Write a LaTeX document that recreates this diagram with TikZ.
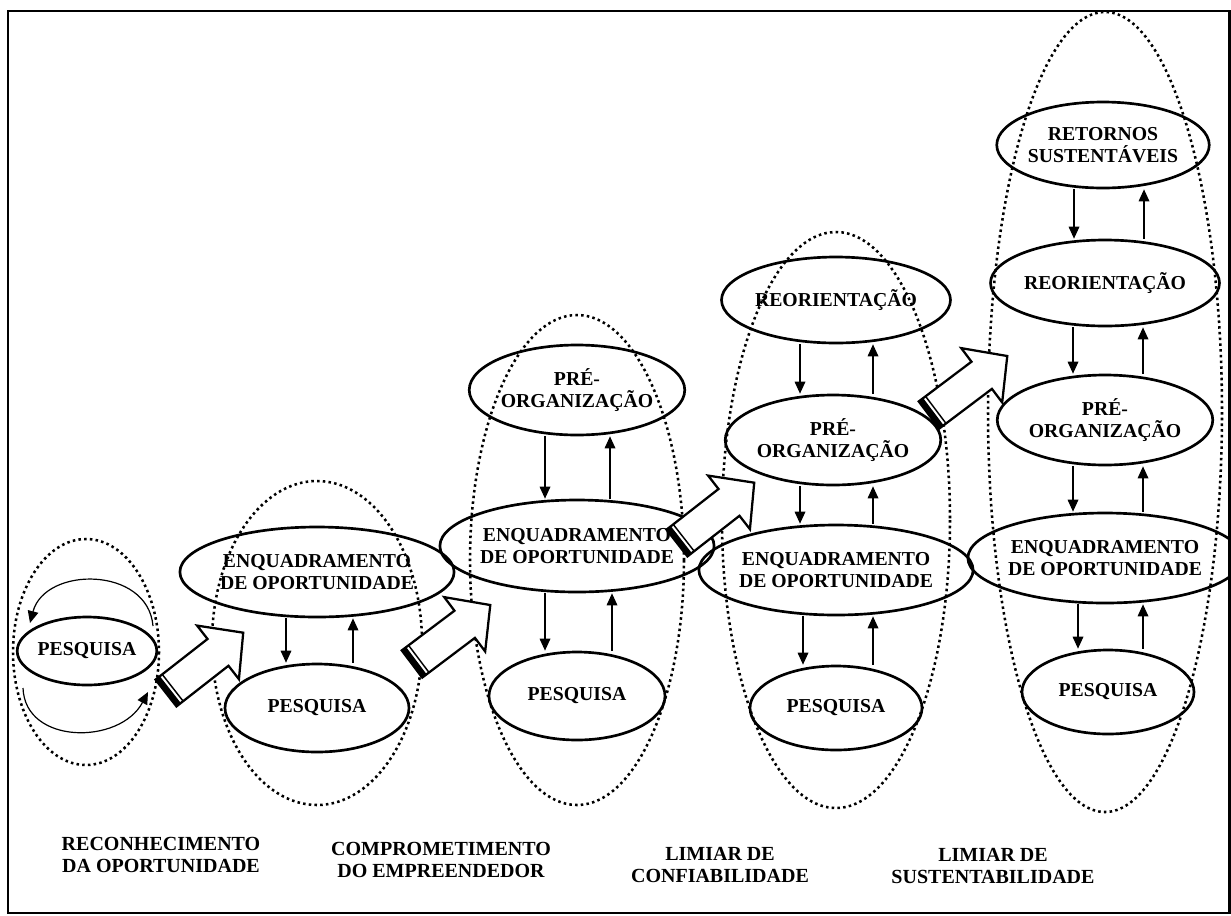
\documentclass[tikz,border=0pt]{standalone}
\usepackage{fontspec}
\setmainfont{Liberation Serif}
\usetikzlibrary{arrows.meta,shapes.geometric,calc}
\newcommand\bubble[6]{\node[bub,minimum width={#4*0.75pt},minimum height={#5*0.75pt}] (#1) at (#2,#3) {#6};}
\newcommand\blockarrow[3]{%
  \begin{scope}[shift={(#1,#2)},rotate=#3]
    \draw[line width=1.7pt,fill=white,line join=miter] (0,-17)--(66,-17)--(66,-34)--(98,0)--(66,34)--(66,17)--(0,17)--cycle;
    \fill (0,-17) rectangle (5.5,17);
    \draw[line width=1.1pt] (8.5,-17)--(8.5,17);
  \end{scope}}
\begin{document}
\begin{tikzpicture}[x=0.75pt,y=-0.75pt,
  bub/.style={ellipse,draw,line width=2pt,inner sep=0pt,align=center,
    font=\bfseries\fontsize{14.8}{16.5}\selectfont},
  dots/.style={line width=1.9pt,dash pattern=on 1.9pt off 2.4pt},
  arr/.style={line width=0.9pt,-{Triangle[length=9pt,width=8pt]}},
  lab/.style={align=center,font=\bfseries\fontsize{15}{16.5}\selectfont}]
\useasboundingbox (0,0) rectangle (1231,915);
\draw[line width=2.2pt] (8,11) rectangle (1229.5,913);

% dotted stage ellipses
\draw[dots] (86,652) ellipse [x radius=73, y radius=113];
\draw[dots] (317,643) ellipse [x radius=105, y radius=162];
\draw[dots] (577,560) ellipse [x radius=107, y radius=245];
\draw[dots] (836,520) ellipse [x radius=114, y radius=288];
\draw[dots] (1105,412) ellipse [x radius=117, y radius=400];

% stage 1
\bubble{sap}{87}{651}{136}{68}{PESQUISA}
\coordinate (c1a) at (153,626);
\coordinate (c1b) at (30,623);
\coordinate (c1c) at (23,688);
\coordinate (c1d) at (148,692);
\draw[arr] (c1a) .. controls (148,566) and (45,566) .. (c1b);
\draw[arr] (c1c) .. controls (25,745) and (120,745) .. (c1d);

% stage 2
\bubble{sbe}{317}{572}{192}{90}{ENQUADRAMENTO\\DE OPORTUNIDADE}
\bubble{sbp}{317}{708}{184}{88}{PESQUISA}
\draw[arr] ($(sbe.south)+(-31,0)$) -- ($(sbp.north)+(-31,0)$);
\draw[arr] ($(sbp.north)+(36,0)$) -- ($(sbe.south)+(36,0)$);

% stage 3
\bubble{sco}{577}{390}{182}{90}{PRÉ-\\ORGANIZAÇÃO}
\bubble{sce}{577}{546}{186}{92}{ENQUADRAMENTO\\DE OPORTUNIDADE}
\bubble{scp}{577}{696}{176}{88}{PESQUISA}
\draw[arr] ($(sco.south)+(-32,0)$) -- ($(sce.north)+(-32,0)$);
\draw[arr] ($(sce.north)+(33,0)$) -- ($(sco.south)+(33,0)$);
\draw[arr] ($(sce.south)+(-32,0)$) -- ($(scp.north)+(-32,0)$);
\draw[arr] ($(scp.north)+(35,0)$) -- ($(sce.south)+(35,0)$);

% stage 4
\bubble{sdr}{836}{300}{178}{86}{REORIENTAÇÃO}
\bubble{sdo}{833}{440}{186}{90}{PRÉ-\\ORGANIZAÇÃO}
\bubble{sde}{836}{570}{186}{90}{ENQUADRAMENTO\\DE OPORTUNIDADE}
\bubble{sdp}{836}{708}{172}{84}{PESQUISA}
\draw[arr] ($(sdr.south)+(-36,0)$) -- ($(sdo.north)+(-33,0)$);
\draw[arr] ($(sdo.north)+(40,0)$) -- ($(sdr.south)+(37,0)$);
\draw[arr] ($(sdo.south)+(-33,0)$) -- ($(sde.north)+(-36,0)$);
\draw[arr] ($(sde.north)+(37,0)$) -- ($(sdo.south)+(40,0)$);
\draw[arr] ($(sde.south)+(-33,0)$) -- ($(sdp.north)+(-33,0)$);
\draw[arr] ($(sdp.north)+(37,0)$) -- ($(sde.south)+(37,0)$);

% stage 5
\bubble{set}{1103}{145}{176}{86}{RETORNOS\\SUSTENTÁVEIS}
\bubble{ser}{1105}{283}{176}{86}{REORIENTAÇÃO}
\bubble{seo}{1105}{420}{180}{90}{PRÉ-\\ORGANIZAÇÃO}
\bubble{see}{1105}{558}{186}{90}{ENQUADRAMENTO\\DE OPORTUNIDADE}
\bubble{sep}{1108}{692}{172}{84}{PESQUISA}
\draw[arr] ($(set.south)+(-29,0)$) -- ($(ser.north)+(-31,0)$);
\draw[arr] ($(ser.north)+(39,0)$) -- ($(set.south)+(41,0)$);
\draw[arr] ($(ser.south)+(-32,0)$) -- ($(seo.north)+(-32,0)$);
\draw[arr] ($(seo.north)+(38,0)$) -- ($(ser.south)+(38,0)$);
\draw[arr] ($(seo.south)+(-32,0)$) -- ($(see.north)+(-32,0)$);
\draw[arr] ($(see.north)+(38,0)$) -- ($(seo.south)+(38,0)$);
\draw[arr] ($(see.south)+(-27,0)$) -- ($(sep.north)+(-30,0)$);
\draw[arr] ($(sep.north)+(35,0)$) -- ($(see.south)+(38,0)$);

% block arrows between stages
\blockarrow{166}{693}{38}
\blockarrow{412}{664}{37}
\blockarrow{677}{543}{38}
\blockarrow{929}{415}{37}

% stage labels
\node[lab] (l1) at (161,855) {RECONHECIMENTO\\DA OPORTUNIDADE};
\node[lab] (l2) at (441,860) {COMPROMETIMENTO\\DO EMPREENDEDOR};
\node[lab] (l3) at (720,865) {LIMIAR DE\\CONFIABILIDADE};
\node[lab] (l4) at (993,866) {LIMIAR DE\\SUSTENTABILIDADE};
\end{tikzpicture}
\end{document}
